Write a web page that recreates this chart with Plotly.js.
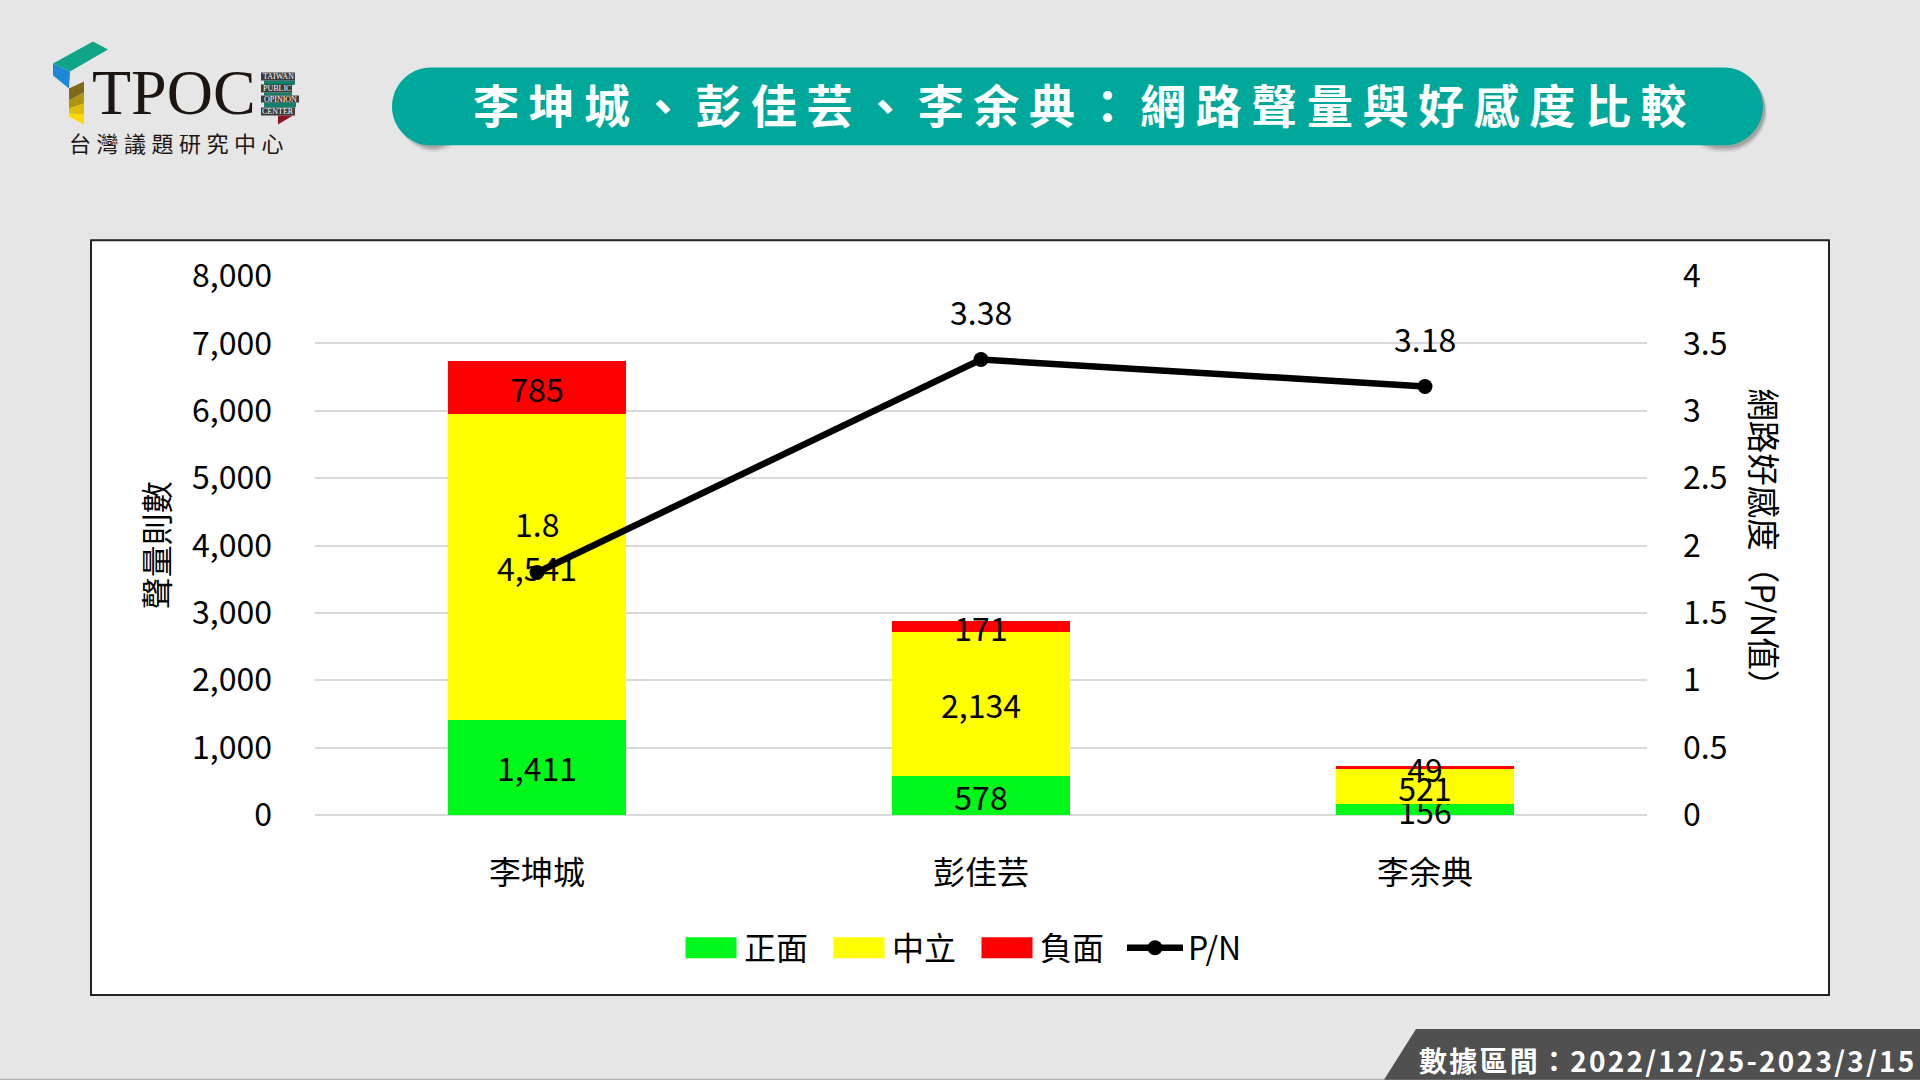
<!DOCTYPE html>
<html><head><meta charset="utf-8">
<script src="https://cdn.plot.ly/plotly-3.0.1.min.js"></script>
<style>
html,body{margin:0;padding:0;background:#e6e6e6;overflow:hidden}
#c{width:1920px;height:1080px}
.g-gtitle text{letter-spacing:9.6px}
.annotation[data-index="5"] text{letter-spacing:5.5px}
.annotation[data-index="6"] text{letter-spacing:2.25px}
</style></head><body><div id="c"></div>
<script>
const categories=['李坤城','彭佳芸','李余典'];
const positive=[1411,578,156];
const neutral=[4541,2134,521];
const negative=[785,171,49];
const pn=[1.8,3.38,3.18];
const yTicks=[0,1000,2000,3000,4000,5000,6000,7000,8000];
const y2Ticks=[0,0.5,1,1.5,2,2.5,3,3.5,4];
const FONT='"Noto Sans CJK TC","Noto Sans",sans-serif';
const SERIF='"Liberation Serif",serif';
const L=315,R=1647,T=275.7,B=815;
const px=x=>(x-L)/(R-L), py=y=>(B-y)/(B-T);
const poly=(pts,fill)=>({type:'path',xref:'paper',yref:'paper',layer:'below',line:{width:0},fillcolor:fill,
  path:'M'+pts.map(p=>px(p[0])+','+py(p[1])).join('L')+'Z'});
const rect=(x0,y0,x1,y1,fill,lineC,lineW)=>({type:'rect',xref:'paper',yref:'paper',layer:'below',x0:px(x0),x1:px(x1),y0:py(y0),y1:py(y1),fillcolor:fill,line:{color:lineC||fill,width:lineW||0}});
const pill=(x0,x1,y0,y1,fill)=>{const r=(y1-y0)/2,k=r*0.45;
  return {type:'path',xref:'paper',yref:'paper',layer:'below',fillcolor:fill,line:{width:0},
  path:`M${px(x0+r)},${py(y0)}L${px(x1-r)},${py(y0)}C${px(x1-k)},${py(y0)} ${px(x1)},${py(y0+k)} ${px(x1)},${py(y0+r)}C${px(x1)},${py(y1-k)} ${px(x1-k)},${py(y1)} ${px(x1-r)},${py(y1)}L${px(x0+r)},${py(y1)}C${px(x0+k)},${py(y1)} ${px(x0)},${py(y1-k)} ${px(x0)},${py(y0+r)}C${px(x0)},${py(y0+k)} ${px(x0+k)},${py(y0)} ${px(x0+r)},${py(y0)}Z`};};
const note=(x,y,text,size,color,extra)=>Object.assign({xref:'paper',yref:'paper',x:px(x),y:py(y),text,showarrow:false,xanchor:'center',yanchor:'middle',font:{family:FONT,size,color}},extra||{});
const serifNote=(x,y,text,size,color)=>note(x,y,text,size,color,{font:{family:SERIF,size,color}});

const shapes=[
  rect(91,240,1829,995,'#ffffff','#222222',2),
  // soft shadow at both ends of the title pill
  pill(396,472,70,152,'rgba(90,90,90,0.10)'),
  pill(396,470,70,150,'rgba(90,90,90,0.18)'),
  pill(397,468,70,148,'rgba(90,90,90,0.28)'),
  pill(1680,1767,70,152,'rgba(90,90,90,0.10)'),
  pill(1682,1766,70,150,'rgba(90,90,90,0.18)'),
  pill(1684,1765,70,148,'rgba(90,90,90,0.28)'),
  pill(392,1763,67,145,'#00a89b'),
  // logo mark
  poly([[93,41],[108,49],[70,71],[53,63]],'#0fa485'),
  poly([[53,63],[70,71],[69,88],[53,75]],'#1c87d6'),
  poly([[84,81],[84,92],[69,100],[69,88]],'#7d6a1c'),
  poly([[84,92],[84,103],[69,108],[69,100]],'#b0930f'),
  poly([[84,103],[84,114],[69,113],[69,108]],'#e0bd08'),
  poly([[84,114],[84,124],[69,116],[69,113]],'#ffd800'),
  // logo ribbon
  poly([[264,80],[295,80],[295,84],[264,92]],'#12806c'),
  poly([[264,92],[292,92],[292,95],[264,95]],'#12806c'),
  poly([[264,102],[296,102],[296,107],[264,107]],'#12806c'),
  rect(261,72,295,80,'#3a3a3a'),
  rect(261,84,292,92,'#3a3a3a'),
  rect(261,95,299,102,'#3a3a3a'),
  rect(261,107,295,115,'#3a3a3a'),
  poly([[278,115],[293,115],[278,124]],'#8e1420'),
  // bottom edge and footer
  rect(0,1079,1920,1080,'#a3a3a3'),
  poly([[1416,1029],[1920,1029],[1920,1080],[1384,1080]],'#505050')
];

const annotations=[
  serifNote(174,92,'TPOC',64,'#1d1512'),
  serifNote(278,76,'TAIWAN',8,'#fff'),
  serifNote(276.5,88,'PUBLIC',8,'#fff'),
  serifNote(280,99,'OPINION',8,'#fff'),
  serifNote(278,111,'CENTER',8,'#fff'),
  note(179,142,'台灣議題研究中心',22,'#1d1512'),
  note(1668,1060,'數據區間：2022/12/25-2023/3/15',28,'#ffffff',{font:{family:FONT,size:28,color:'#fff',weight:700}}),
  note(155,545,'聲量則數',32,'#000',{textangle:-90}),
  note(1766,545,'網路好感度（P/N值）',32.5,'#000',{textangle:90})
];
pn.forEach((v,i)=>annotations.push({xref:'x',yref:'y2',x:categories[i],y:v,text:String(v),showarrow:false,yshift:49,xanchor:'center',yanchor:'middle',font:{family:FONT,size:32,color:'#000'}}));

const barText=a=>a.map(v=>v.toLocaleString('en-US'));
const bar=(name,vals,color)=>({type:'bar',name,x:categories,y:vals,marker:{color,line:{width:0}},text:barText(vals),textposition:'inside',insidetextanchor:'middle',textangle:0,constraintext:'none',insidetextfont:{family:FONT,size:32,color:'#000'},cliponaxis:false,hoverinfo:'x+y'});
const traces=[
  bar('正面',positive,'#00f71a'),
  bar('中立',neutral,'#ffff00'),
  bar('負面',negative,'#ff0000'),
  {type:'scatter',mode:'lines+markers',name:'P/N',x:categories,y:pn,yaxis:'y2',line:{color:'#000',width:6.5},marker:{color:'#000',size:15}}
];
const layout={
  width:1920,height:1080,paper_bgcolor:'#e6e6e6',plot_bgcolor:'rgba(0,0,0,0)',
  margin:{l:L,r:1920-R,t:T,b:1080-B,autoexpand:false},
  barmode:'stack',bargap:0.6,
  font:{family:FONT,size:30,color:'#000'},
  title:{text:'李坤城、彭佳芸、李余典：網路聲量與好感度比較',xref:'container',yref:'container',x:1084.5/1920,y:1-107/1080,xanchor:'center',yanchor:'middle',font:{family:FONT,size:46,color:'#fff',weight:700}},
  xaxis:{type:'category',categoryorder:'array',categoryarray:categories,tickfont:{family:FONT,size:32,color:'#000'},ticks:'',showgrid:false,showline:false,zeroline:false,ticklabelstandoff:36,automargin:false},
  yaxis:{range:[0,8000],tickmode:'array',tickvals:yTicks,tickformat:',d',tickfont:{family:FONT,size:32,color:'#000'},gridcolor:'#d9d9d9',gridwidth:2,zeroline:true,zerolinecolor:'#d9d9d9',zerolinewidth:2,showline:false,ticks:'',ticklabelstandoff:42,automargin:false},
  yaxis2:{range:[0,4],overlaying:'y',side:'right',tickmode:'array',tickvals:y2Ticks,tickfont:{family:FONT,size:32,color:'#000'},showgrid:false,zeroline:false,showline:false,ticks:'',ticklabelstandoff:35,automargin:false},
  showlegend:true,
  legend:{orientation:'h',x:px(678),y:py(948),xanchor:'left',yanchor:'middle',bgcolor:'rgba(0,0,0,0)',font:{family:FONT,size:32,color:'#000'},itemwidth:56,entrywidth:77,entrywidthmode:'pixels',traceorder:'normal',itemclick:false,itemdoubleclick:false},
  shapes,annotations
};
Plotly.newPlot('c',traces,layout,{displayModeBar:false,staticPlot:true}).then(gd=>{
  // widen the bar legend keys to the reference's 51x21 swatches
  gd.querySelectorAll('.legend .traces').forEach(t=>{
    const p=t.querySelector('.legendpoints path');
    if(p && !t.querySelector('.js-line') && p.getAttribute('d') && p.getAttribute('d').indexOf('M6,6')===0) p.setAttribute('d','M25.5,10.5H-25.5V-10.5H25.5Z');
  });
});
</script></body></html>
